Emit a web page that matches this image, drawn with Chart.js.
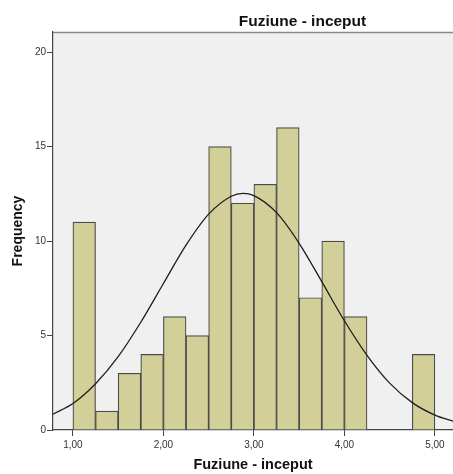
<!DOCTYPE html>
<html>
<head>
<meta charset="utf-8">
<script src="https://cdn.jsdelivr.net/npm/chart.js@4.4.1/dist/chart.umd.min.js"></script>
<style>
  html, body { margin: 0; padding: 0; background: #fff; overflow: hidden; }
  canvas { display: block; }
</style>
</head>
<body>
<canvas id="hist" width="453" height="474"></canvas>
<script>
// histogram bins (width 0.25), centre of each bin and its count
const binCenters = [1.125, 1.375, 1.625, 1.875, 2.125, 2.375, 2.625, 2.875,
                    3.125, 3.375, 3.625, 3.875, 4.125, 4.875];
const binCounts  = [11, 1, 3, 4, 6, 5, 15, 12, 13, 16, 7, 10, 6, 4];

// normal curve
const curveX = [0.78, 1.00, 1.25, 1.50, 1.75, 2.00, 2.25, 2.50, 2.75, 2.88,
                3.00, 3.25, 3.50, 3.75, 4.00, 4.25, 4.50, 4.75, 5.00, 5.22];
const curveY = [0.84, 1.40, 2.45, 3.88, 5.70, 7.75, 9.78, 11.42, 12.37, 12.52,
                12.40, 11.50, 9.88, 7.85, 5.78, 3.95, 2.48, 1.45, 0.79, 0.44];

const xTicks = [1, 2, 3, 4, 5];
const yTicks = [0, 5, 10, 15, 20];

const chartTitle = 'Fuziune - inceput';
const xTitle = 'Fuziune - inceput';
const yTitle = 'Frequency';

const FONT = '"Liberation Sans", Arial, sans-serif';

// plot background, top frame line and the chart title
const spssFrame = {
  id: 'spssFrame',
  beforeDraw(chart) {
    const { ctx, chartArea: a } = chart;
    ctx.save();
    ctx.fillStyle = '#f0f0f0';
    ctx.fillRect(a.left, a.top, a.right - a.left, a.bottom - a.top);
    ctx.strokeStyle = '#8a8a8a';
    ctx.lineWidth = 1.5;
    ctx.beginPath();
    ctx.moveTo(a.left, a.top + 0.5);
    ctx.lineTo(a.right, a.top + 0.5);
    ctx.stroke();
    ctx.restore();
  },
  afterDraw(chart) {
    const ctx = chart.ctx;
    ctx.save();
    ctx.fillStyle = '#111';
    ctx.font = 'bold 15.5px ' + FONT;
    ctx.textAlign = 'center';
    ctx.textBaseline = 'alphabetic';
    ctx.fillText(chartTitle, 302.5, 26);
    ctx.restore();
  }
};

const histData = binCenters.map((x, i) => ({ x: x, y: binCounts[i] }));
const curveData = curveX.map((x, i) => ({ x: x, y: curveY[i] }));

new Chart(document.getElementById('hist'), {
  type: 'bar',
  data: {
    datasets: [
      {
        type: 'line',
        data: curveData,
        borderColor: '#1e1e1e',
        borderWidth: 1.3,
        pointRadius: 0,
        fill: false,
        cubicInterpolationMode: 'monotone',
        order: 0
      },
      {
        type: 'bar',
        data: histData,
        backgroundColor: '#d3cf98',
        borderColor: '#4b4b4b',
        borderWidth: 1.2,
        barPercentage: 1,
        categoryPercentage: 1,
        order: 1
      }
    ]
  },
  options: {
    responsive: false,
    animation: false,
    layout: { padding: { top: 32, left: 0, right: 0, bottom: 0 } },
    plugins: {
      legend: { display: false },
      tooltip: { enabled: false },
      title: { display: false }
    },
    scales: {
      x: {
        type: 'linear',
        min: 0.78,
        max: 5.2,
        offset: false,
        grid: { offset: false, drawOnChartArea: false, drawTicks: true, tickLength: 6, color: '#444' },
        border: { display: true, color: '#444', width: 1.2 },
        afterBuildTicks: (scale) => { scale.ticks = xTicks.map(v => ({ value: v })); },
        afterFit: (scale) => { scale.height = 44; },
        ticks: {
          padding: 3,
          color: '#333',
          font: { family: FONT, size: 10 },
          callback: (v) => v.toFixed(2).replace('.', ',')
        },
        title: {
          display: true,
          text: xTitle,
          color: '#111',
          font: { family: FONT, size: 14.5, weight: 'bold' },
          padding: { top: 0, bottom: 0 }
        }
      },
      y: {
        type: 'linear',
        min: 0,
        max: 21.06,
        grid: { drawOnChartArea: false, drawTicks: true, tickLength: 6, color: '#444' },
        border: { display: true, color: '#444', width: 1.2 },
        afterBuildTicks: (scale) => { scale.ticks = yTicks.map(v => ({ value: v })); },
        afterFit: (scale) => { scale.width = 53; },
        ticks: {
          padding: 1,
          color: '#333',
          font: { family: FONT, size: 10 }
        },
        title: {
          display: true,
          text: yTitle,
          color: '#111',
          font: { family: FONT, size: 14, weight: 'bold' },
          padding: { top: 10, bottom: 0 }
        }
      }
    }
  },
  plugins: [spssFrame]
});
</script>
</body>
</html>
